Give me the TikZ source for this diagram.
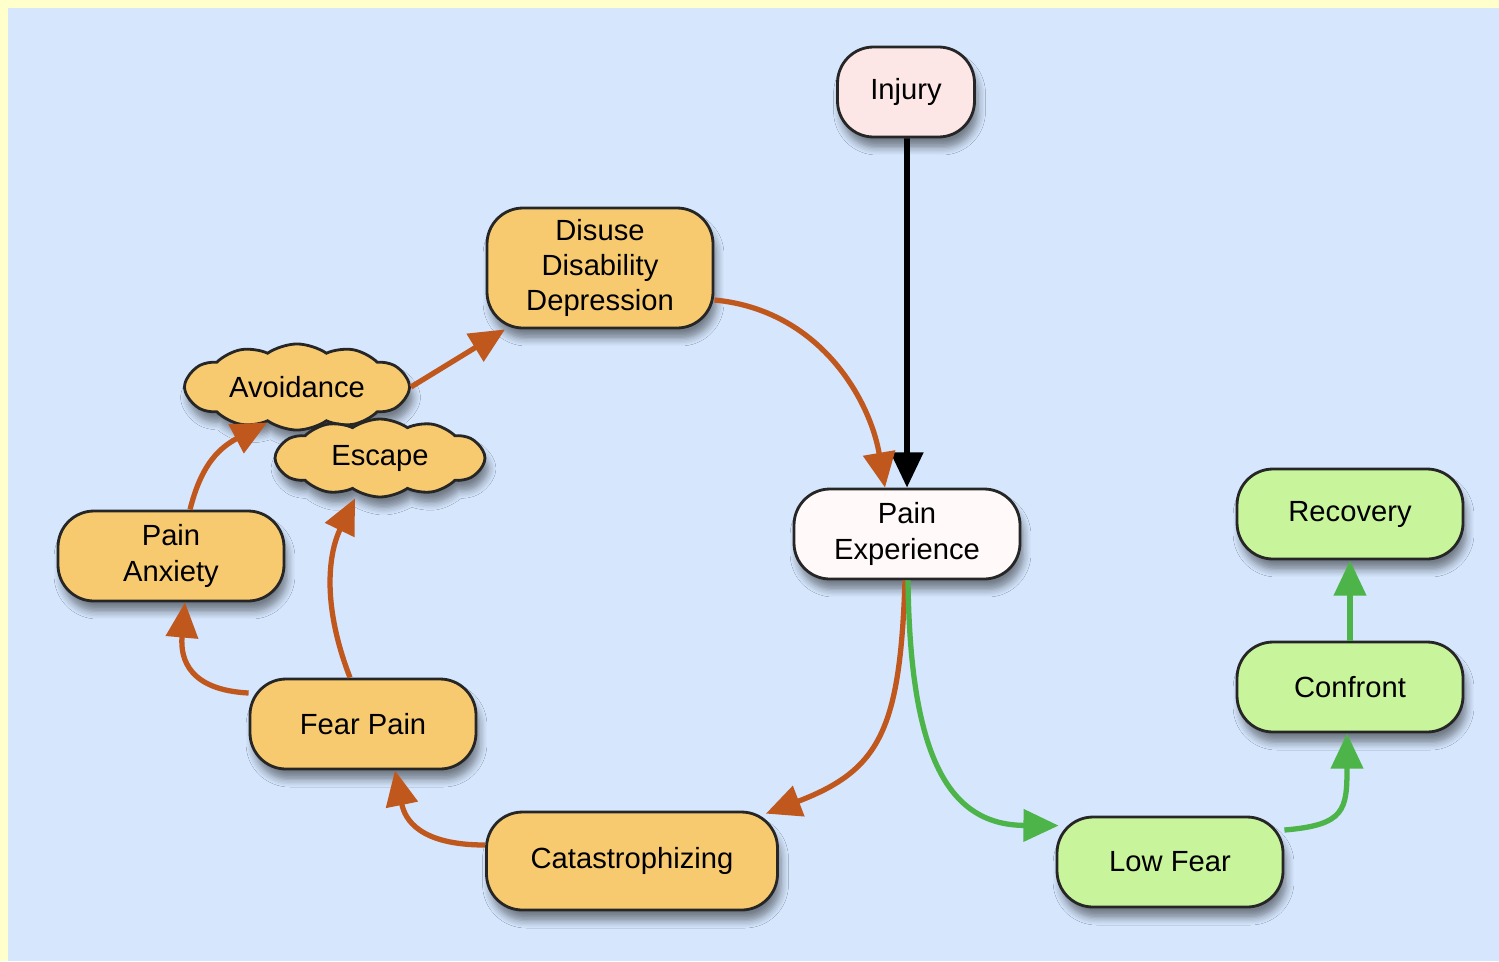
\documentclass[tikz,border=0pt]{standalone}
\usepackage{fontspec}
\setmainfont{Liberation Sans}
\usetikzlibrary{arrows.meta,shapes.symbols,shadows.blur}
\definecolor{framebg}{RGB}{255,255,204}
\definecolor{panelbg}{RGB}{213,230,253}
\definecolor{orangefill}{RGB}{248,202,112}
\definecolor{greenfill}{RGB}{200,245,155}
\definecolor{pinkfill}{RGB}{252,230,230}
\definecolor{whitefill}{RGB}{255,249,249}
\definecolor{rustline}{RGB}{192,88,30}
\definecolor{greenline}{RGB}{76,180,72}
\begin{document}
\begin{tikzpicture}[>={Triangle[length=10pt,width=9pt]},
  box/.style={draw=black!85, line width=0.8pt, rounded corners=0.36cm, minimum width=2.26cm, minimum height=0.9cm, align=center, inner sep=2pt, font=\fontsize{8.3}{10}\selectfont, blur shadow={shadow xshift=1pt, shadow yshift=-3pt, shadow opacity=45, shadow blur steps=6}},
  puff/.style={draw=black!85, line width=0.8pt, cloud, cloud puffs=12, cloud puff arc=70, aspect=2.8, inner sep=1pt, font=\fontsize{8.3}{10}\selectfont, fill=orangefill, blur shadow={shadow xshift=1pt, shadow yshift=-3pt, shadow opacity=45, shadow blur steps=6}},
  rust/.style={->, draw=rustline, line width=1.5pt},
  grn/.style={->, draw=greenline, line width=1.5pt}]
\fill[framebg] (0,0) rectangle (14.99,-9.61);
\fill[panelbg] (0.08,-0.08) rectangle (14.99,-9.61);
\node[box, fill=pinkfill, minimum width=1.37cm] (injury) at (9.06,-0.92) {Injury};
\node[box, fill=orangefill, minimum height=1.2cm] (dis) at (6.00,-2.68) {Disuse\\Disability\\Depression};
\node[box, fill=whitefill] (pain) at (9.07,-5.34) {Pain\\Experience};
\node[box, fill=orangefill] (anx) at (1.71,-5.56) {Pain\\Anxiety};
\node[box, fill=orangefill] (fear) at (3.63,-7.24) {Fear Pain};
\node[box, fill=orangefill, minimum width=2.91cm, minimum height=0.98cm] (cat) at (6.32,-8.61) {Catastrophizing};
\node[box, fill=greenfill] (low) at (11.70,-8.62) {Low Fear};
\node[box, fill=greenfill] (conf) at (13.50,-6.87) {Confront};
\node[box, fill=greenfill] (rec) at (13.50,-5.14) {Recovery};
\node[puff, minimum width=2.25cm, minimum height=0.8cm] (avo) at (2.97,-3.87) {Avoidance};
\node[puff, minimum width=2.1cm, minimum height=0.78cm] (esc) at (3.80,-4.58) {Escape};
\draw[->, line width=1.6pt] ([xshift=0.01cm]injury.south) -- (pain.north);
\draw[rust] ([yshift=-0.32cm]dis.east) .. controls (8.2,-3.1) and (8.7,-4.0) .. ([xshift=-0.22cm]pain.north);
\draw[rust] ([xshift=-0.02cm]pain.south) .. controls (9.0,-7.3) and (8.8,-7.7) .. ([xshift=-0.13cm,yshift=-0.03cm]cat.north east);
\draw[grn] ([xshift=0.01cm]pain.south) .. controls (9.1,-7.6) and (9.5,-8.25) .. ([xshift=0.03cm,yshift=-0.1cm]low.north west);
\draw[grn] ([yshift=0.32cm]low.east) .. controls (13.45,-8.25) and (13.47,-8.1) .. ([xshift=-0.03cm]conf.south);
\draw[grn] (conf.north) -- (rec.south);
\draw[rust] ([yshift=0.16cm]cat.west) .. controls (4.2,-8.45) and (4.05,-8.2) .. ([xshift=0.32cm]fear.south);
\draw[rust] ([yshift=0.31cm]fear.west) .. controls (1.9,-6.9) and (1.8,-6.6) .. ([xshift=0.14cm]anx.south);
\draw[rust] ([xshift=-0.13cm]fear.north) .. controls (3.2,-6.0) and (3.3,-5.5) .. ([xshift=-0.25cm]esc.south);
\draw[rust] ([xshift=0.19cm]anx.north) .. controls (2.0,-4.7) and (2.15,-4.5) .. (avo.-130);
\draw[rust] (avo.east) -- ([xshift=-0.95cm]dis.south);
\end{tikzpicture}
\end{document}
